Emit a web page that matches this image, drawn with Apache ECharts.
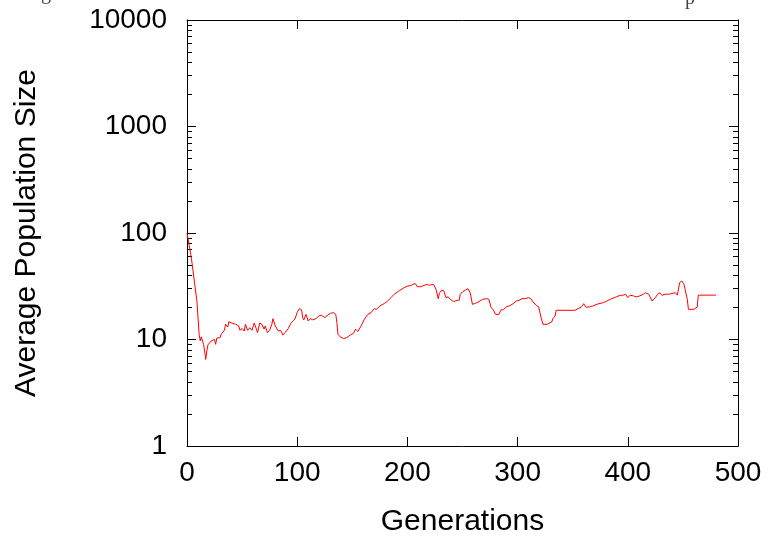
<!DOCTYPE html>
<html>
<head>
<meta charset="utf-8">
<title>Average Population Size</title>
<script src="https://cdn.jsdelivr.net/npm/echarts@6/dist/echarts.min.js"></script>
<style>
  html, body { margin: 0; padding: 0; background: #fff; }
  #chart { width: 770px; height: 542px; }
</style>
</head>
<body>
<div id="chart"></div>
<script>
// Generation index and the mean population size at that generation
const generations = [
  0, 4, 7, 9, 11, 12, 13, 15, 16, 17, 18, 19, 22, 25, 26, 27, 30, 31, 34, 35,
  37, 38, 41, 44, 47, 48, 50, 52, 53, 55, 57, 59, 61, 63, 64, 66, 68, 70, 71, 73,
  75, 77, 78, 80, 83, 85, 87, 89, 92, 94, 96, 98, 100, 102, 104, 105, 106, 108, 110, 112,
  114, 117, 120, 122, 125, 127, 130, 133, 135, 136, 137, 139, 142, 145, 148, 151, 153, 155, 156, 158,
  161, 164, 167, 170, 172, 175, 179, 182, 185, 188, 193, 197, 200, 203, 207, 209, 212, 215, 218, 220,
  222, 224, 226, 228, 229, 231, 233, 235, 237, 239, 242, 245, 247, 248, 250, 253, 255, 257, 259, 262,
  265, 268, 272, 274, 276, 278, 280, 283, 285, 287, 290, 293, 296, 299, 302, 304, 307, 310, 312, 314,
  317, 319, 321, 323, 327, 329, 331, 332, 334, 335, 352, 355, 358, 360, 362, 365, 368, 373, 378, 381,
  385, 390, 393, 396, 398, 400, 402, 405, 408, 411, 414, 416, 419, 422, 425, 427, 429, 431, 434, 437,
  438, 443, 445, 447, 449, 451, 452, 454, 455, 460, 461, 463, 464, 480
];
const avgPopulation = [
  100, 58, 33, 23, 11.2, 9.7, 10.6, 9.0, 7.8, 6.5, 7.8, 8.9, 9.7, 10.0, 9.0, 10.3, 10.4, 11.2, 12.2, 13.9,
  13.1, 14.7, 14.2, 13.9, 13.4, 12.2, 12.7, 12.0, 13.9, 12.2, 12.9, 12.2, 14.3, 12.5, 11.6, 14.3, 13.9, 12.5, 13.4, 11.6,
  12.2, 13.9, 15.7, 13.4, 12.0, 12.2, 11.0, 11.6, 12.7, 14.1, 14.9, 15.6, 18.0, 19.5, 19.0, 16.0, 15.3, 17.2, 14.9, 15.7,
  15.3, 15.7, 16.7, 16.9, 16.0, 16.7, 17.6, 17.9, 17.2, 14.4, 11.2, 10.6, 10.2, 10.4, 11.0, 11.4, 12.5, 11.9, 11.4, 13.4,
  15.5, 17.2, 17.9, 19.5, 19.2, 20.6, 21.8, 22.9, 24.7, 26.6, 28.9, 30.6, 31.7, 32.1, 33.6, 31.3, 31.3, 32.2, 32.9, 32.2,
  32.9, 32.7, 29.5, 24.1, 27.2, 29.0, 28.7, 24.7, 25.2, 23.8, 22.7, 23.3, 23.4, 26.6, 28.0, 29.2, 30.0, 27.5, 21.4, 21.9,
  22.7, 23.8, 24.2, 23.8, 19.9, 19.0, 17.2, 17.2, 19.0, 19.0, 20.3, 20.8, 21.7, 23.0, 23.5, 24.2, 24.2, 24.7, 24.2, 22.5,
  20.9, 20.3, 16.6, 13.9, 13.9, 14.3, 14.6, 15.7, 16.6, 18.8, 18.8, 19.5, 20.3, 21.7, 20.1, 20.2, 20.6, 21.6, 22.2, 23.0,
  24.1, 25.2, 26.0, 26.1, 26.6, 24.7, 26.0, 25.7, 25.1, 25.7, 26.6, 27.5, 26.6, 23.0, 24.7, 26.6, 27.5, 26.0, 26.6, 26.6,
  27.5, 27.5, 26.1, 34.2, 35.4, 32.9, 29.5, 23.8, 19.2, 19.2, 19.9, 20.2, 26.1, 26.1
];

// Axis tick values
const xTickValues = [0, 100, 200, 300, 400, 500];
const yTickValues = [1, 10, 100, 1000, 10000];
const yMinorTickValues = [
  2, 3, 4, 5, 6, 7, 8, 9,
  20, 30, 40, 50, 60, 70, 80, 90,
  200, 300, 400, 500, 600, 700, 800, 900,
  2000, 3000, 4000, 5000, 6000, 7000, 8000, 9000
];

const FONT = '"Liberation Sans", Arial, Helvetica, sans-serif';
const black = '#000';
const labelStyle = { fontSize: 28, color: black, fontFamily: FONT };
const nameStyle = { fontSize: 30, color: black, fontFamily: FONT };
const frameLine = { show: true, onZero: false, lineStyle: { color: black, width: 1 } };

function yAxisDef(position, opts) {
  return Object.assign({
    type: 'log',
    logBase: 10,
    min: 1,
    max: 10000,
    position: position,
    axisLine: frameLine,
    splitLine: { show: false },
    minorTick: { show: false },
    axisLabel: { show: false }
  }, opts);
}

function xAxisDef(position, opts) {
  return Object.assign({
    type: 'value',
    min: 0,
    max: 500,
    interval: 100,
    position: position,
    axisLine: frameLine,
    splitLine: { show: false },
    axisTick: { inside: true, length: 9, lineStyle: { color: black, width: 1 } },
    axisLabel: { show: false }
  }, opts);
}

const chart = echarts.init(document.getElementById('chart'), null, { renderer: 'canvas' });

chart.setOption({
  animation: false,
  backgroundColor: '#fff',
  grid: { left: 187, top: 20, width: 551, height: 426, show: false },
  xAxis: [
    xAxisDef('bottom', {
      axisLabel: Object.assign({ show: true, margin: 13,
        customValues: xTickValues, formatter: v => String(v) }, labelStyle),
      name: 'Generations',
      nameLocation: 'middle',
      nameGap: 61,
      nameTextStyle: nameStyle
    }),
    xAxisDef('top', {})
  ],
  yAxis: [
    yAxisDef('left', {
      axisTick: { inside: true, length: 9, customValues: yTickValues,
        lineStyle: { color: black, width: 1 } },
      axisLabel: Object.assign({ show: true, margin: 20, customValues: yTickValues,
        formatter: v => String(Math.round(v)) }, labelStyle),
      name: 'Average Population Size',
      nameLocation: 'middle',
      nameGap: 145,
      nameRotate: 90,
      nameTextStyle: nameStyle
    }),
    yAxisDef('left', {
      axisLine: { show: false, onZero: false },
      axisTick: { inside: true, length: 5, customValues: yMinorTickValues,
        lineStyle: { color: black, width: 1 } }
    }),
    yAxisDef('right', {
      axisTick: { inside: true, length: 9, customValues: yTickValues,
        lineStyle: { color: black, width: 1 } }
    }),
    yAxisDef('right', {
      axisLine: { show: false, onZero: false },
      axisTick: { inside: true, length: 5, customValues: yMinorTickValues,
        lineStyle: { color: black, width: 1 } }
    })
  ],
  graphic: [
    // descenders of the caption line above the figure
    { type: 'text', left: 41, top: -16, style: { text: 'g', font: '20px "Liberation Serif", serif', fill: '#444' } },
    { type: 'text', left: 685, top: -11, style: { text: 'p', font: '20px "Liberation Serif", serif', fill: '#444' } }
  ],
  series: [{
    type: 'line',
    xAxisIndex: 0,
    yAxisIndex: 0,
    data: generations.map((g, i) => [g, avgPopulation[i]]),
    symbol: 'none',
    showSymbol: false,
    smooth: false,
    lineStyle: { color: '#ff0000', width: 1 },
    emphasis: { disabled: true }
  }]
});
</script>
</body>
</html>
